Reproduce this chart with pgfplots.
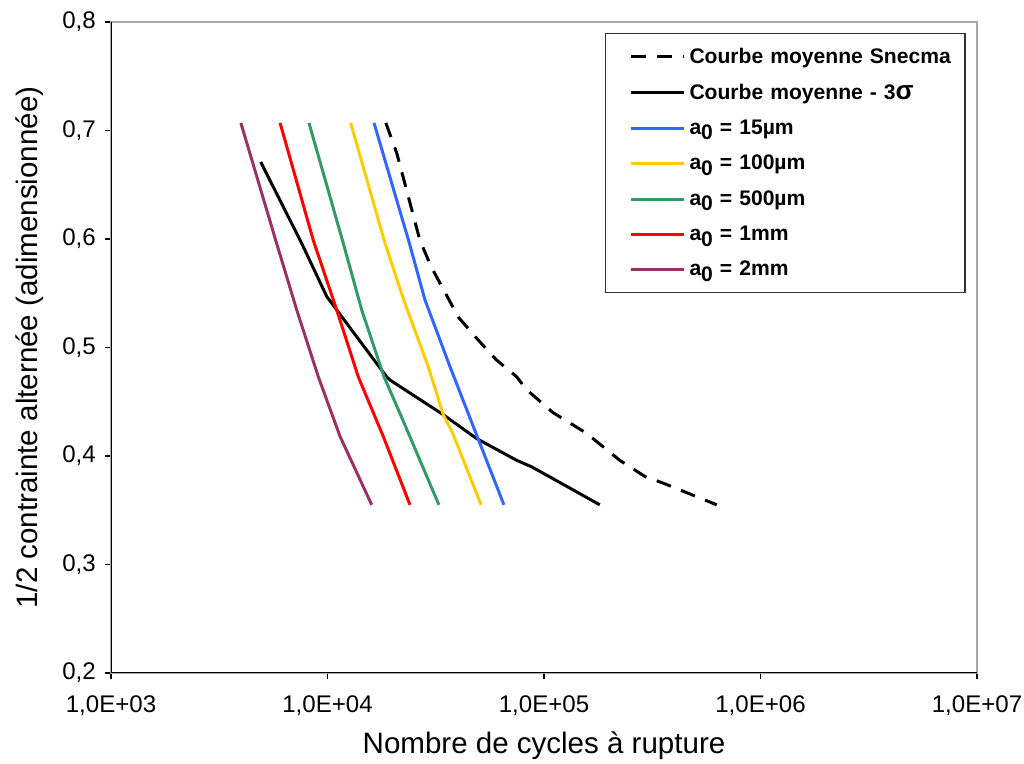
\documentclass[border=0pt]{standalone}
\usepackage{pgfplots}
\pgfplotsset{compat=1.18}
\usepackage{fontspec}
\setmainfont{Liberation Sans}
\definecolor{cblue}{RGB}{51,102,255}
\definecolor{cyellow}{RGB}{255,204,0}
\definecolor{cgreen}{RGB}{51,153,102}
\definecolor{cred}{RGB}{255,0,0}
\definecolor{cpurple}{RGB}{153,51,102}
\newcommand{\azero}{a\raisebox{-0.5ex}{0}}
\begin{document}
\begin{tikzpicture}
\path[use as bounding box] (-2.22cm,-1.82cm) rectangle (18.26cm,13.46cm);
\begin{axis}[
  scale only axis,
  width=17.32cm, height=13.02cm,
  at={(0,0)}, anchor=south west,
  xmode=log, xmin=1e3, xmax=1e7,
  ymin=0.2, ymax=0.8,
  xtick={1e3,1e4,1e5,1e6,1e7},
  xticklabels={{1,0E+03},{1,0E+04},{1,0E+05},{1,0E+06},{1,0E+07}},
  ytick={0.2,0.3,0.4,0.5,0.6,0.7,0.8},
  yticklabels={{0,2},{0,3},{0,4},{0,5},{0,6},{0,7},{0,8}},
  minor xtick={}, log basis x=10,
  xminorticks=false,
  tick align=outside, xtick pos=bottom, ytick pos=left,
  major tick length=0.13cm,
  tick style={black, line width=0.6pt},
  axis line style={gray!70, line width=0.9pt},
  ticklabel style={font=\fontsize{13.7}{15}\selectfont},
  xticklabel style={yshift=-0.2cm},
  yticklabel style={xshift=-0.05cm},
  xlabel={Nombre de cycles à rupture},
  ylabel={1/2 contrainte alternée (adimensionnée)},
  label style={font=\fontsize{16.8}{18}\selectfont},
  xlabel style={at={(axis description cs:0.5,-0.111)}, anchor=center},
  ylabel style={at={(axis description cs:-0.0935,0.5)}, anchor=center, rotate=0},
  legend style={at={(rel axis cs:0.987,0.983)}, anchor=north east,
    draw=black!80, line width=0.8pt, font=\bfseries\fontsize{12}{14}\selectfont,
    row sep=6.3pt, inner xsep=4pt, inner ysep=6pt, text width=5.3cm},
  legend cell align=left,
  legend image code/.code={\path[draw=none] (0cm,0cm) -- (1.45cm,0cm); \draw[#1] (0.38cm,0cm) -- (1.44cm,0cm);},
]
\addplot[black, line width=1.7pt, dash pattern=on 0.3cm off 0.22cm] coordinates {
 (18600,0.707) (20900,0.679) (26700,0.599) (30100,0.5745) (40200,0.528)
 (49600,0.507) (60300,0.4885) (74800,0.473) (83200,0.461) (110000,0.44)
 (157000,0.421) (224000,0.396) (293000,0.381) (355000,0.375) (628000,0.355)};
\addlegendentry{Courbe moyenne Snecma}
\addplot[black, line width=1.7pt] coordinates {
 (4913,0.671) (7600,0.596) (9920,0.547) (11030,0.5346) (18750,0.473) (19440,0.470)
 (34300,0.438) (48900,0.416) (74800,0.396) (87700,0.390) (127400,0.372) (181000,0.355)};
\addlegendentry{Courbe moyenne - 3{\fontsize{15}{15}\selectfont σ}}
\addplot[cblue, line width=1.7pt] coordinates {
 (16400,0.707) (23900,0.596) (28200,0.5438) (36800,0.4823) (48500,0.4209) (65300,0.355)};
\addlegendentry{\azero{} = 15µm}
\addplot[cyellow, line width=1.7pt] coordinates {
 (12790,0.707) (18440,0.596) (22500,0.5438) (29200,0.4823) (34300,0.4378) (37900,0.4209) (51200,0.355)};
\addlegendentry{\azero{} = 100µm}
\addplot[cgreen, line width=1.7pt] coordinates {
 (8210,0.707) (11830,0.596) (14390,0.5346) (18240,0.473) (21600,0.4394) (24000,0.418) (32700,0.355)};
\addlegendentry{\azero{} = 500µm}
\addplot[cred, line width=1.7pt] coordinates {
 (6040,0.707) (8590,0.599) (11030,0.5346) (13870,0.473) (18100,0.418) (24040,0.355)};
\addlegendentry{\azero{} = 1mm}
\addplot[cpurple, line width=1.7pt] coordinates {
 (3980,0.707) (5820,0.596) (7210,0.5346) (9070,0.473) (11430,0.418) (16000,0.355)};
\addlegendentry{\azero{} = 2mm}
\draw[black, line width=0.9pt] (rel axis cs:0,1) -- (rel axis cs:0,0) -- (rel axis cs:1,0);
\end{axis}
\end{tikzpicture}
\end{document}
